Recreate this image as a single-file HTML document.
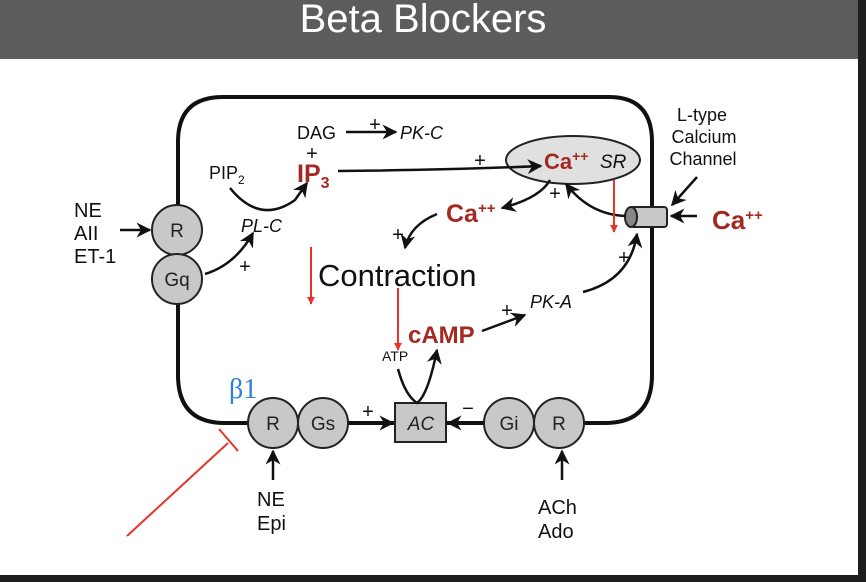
<!DOCTYPE html>
<html><head><meta charset="utf-8"><style>
html,body{margin:0;padding:0;background:#fff;}
body{width:866px;height:582px;overflow:hidden;position:relative;font-family:"Liberation Sans",sans-serif;}
</style></head><body>
<svg width="866" height="582" viewBox="0 0 866 582" xmlns="http://www.w3.org/2000/svg" style="position:absolute;left:0;top:0" font-family="Liberation Sans, sans-serif">
<defs>
<marker id="a" viewBox="0 0 10 10" refX="9" refY="5" markerWidth="6" markerHeight="6" orient="auto-start-reverse"><path d="M0,0L10,5L0,10L3,5z" fill="#111"/></marker>
<marker id="r" viewBox="0 0 10 10" refX="9" refY="5" markerWidth="4" markerHeight="4" orient="auto"><path d="M0,0L10,5L0,10z" fill="#e8332a"/></marker>
</defs>
<rect x="0" y="0" width="866" height="59" fill="#5c5c5c"/>
<text x="423" y="32" font-size="40" fill="#fff" text-anchor="middle">Beta Blockers</text>
<rect x="858" y="0" width="8" height="582" fill="#1e1e1e"/>
<rect x="0" y="575" width="866" height="7" fill="#1e1e1e"/>

<!-- membrane -->
<path d="M178,375 L178,142 Q178,97 223,97 L609,97 Q652,97 652,142 L652,375 Q652,423 605,423 L225,423 Q178,423 178,375" fill="none" stroke="#111" stroke-width="4"/>

<g stroke="#222" stroke-width="2" fill="#c8c8c8">
<circle cx="177" cy="230" r="25"/><circle cx="177" cy="279" r="25"/>
<circle cx="273" cy="423" r="25"/><circle cx="323" cy="423" r="25"/>
<rect x="395" y="403" width="51" height="39"/>
<circle cx="509" cy="423" r="25"/><circle cx="559" cy="423" r="25"/>
<ellipse cx="573" cy="160" rx="67" ry="24" fill="#e0e0e0"/>
<rect x="630" y="207" width="37" height="20" rx="3"/>
<ellipse cx="631" cy="217" rx="6" ry="10" fill="#888"/>
</g>
<g font-size="19" text-anchor="middle" fill="#222">
<text x="177" y="237">R</text><text x="177" y="286">Gq</text>
<text x="273" y="430">R</text><text x="323" y="430">Gs</text>
<text x="421" y="430" font-style="italic">AC</text>
<text x="509" y="430">Gi</text><text x="559" y="430">R</text>
</g>
<g font-size="20" fill="#111">
<text x="74" y="217">NE</text><text x="74" y="240">AII</text><text x="74" y="263">ET-1</text>
<text x="257" y="506">NE</text><text x="257" y="530">Epi</text>
<text x="538" y="514">ACh</text><text x="538" y="538">Ado</text>
</g>
<g font-size="18" fill="#111" text-anchor="middle">
<text x="702" y="121">L-type</text>
<text x="704" y="143">Calcium</text><text x="703" y="165">Channel</text>
</g>
<g font-size="18" fill="#111">
<text x="297" y="139">DAG</text>
<text x="400" y="139" font-style="italic">PK-C</text>
<text x="209" y="179">PIP<tspan font-size="12" dy="5">2</tspan></text>
<text x="241" y="232" font-style="italic">PL-C</text>
<text x="530" y="308" font-style="italic">PK-A</text>
<text x="600" y="168" font-size="19" font-style="italic">SR</text>
<text x="318" y="286" font-size="31">Contraction</text>
<text x="382" y="361" font-size="14">ATP</text>
</g>
<g fill="#a32a22" font-weight="bold">
<text x="297" y="182" font-size="25">IP<tspan font-size="16" dy="6">3</tspan></text>
<text x="544" y="169" font-size="22">Ca<tspan font-size="14" dy="-8">++</tspan></text>
<text x="446" y="222" font-size="25">Ca<tspan font-size="15" dy="-9">++</tspan></text>
<text x="712" y="229" font-size="26">Ca<tspan font-size="15" dy="-9">++</tspan></text>
<text x="408" y="343" font-size="24">cAMP</text>
</g>
<text x="229" y="398" font-size="28" fill="#2f7fd6" font-family="Liberation Serif, serif">β1</text>
<g font-size="20" fill="#111" text-anchor="middle">
<text x="375" y="131">+</text><text x="312" y="160">+</text><text x="480" y="167">+</text>
<text x="555" y="200">+</text><text x="398" y="241">+</text><text x="245" y="273">+</text>
<text x="624" y="264">+</text><text x="507" y="317">+</text><text x="368" y="418">+</text>
<text x="468" y="415">−</text>
</g>
<g fill="none" stroke="#111" stroke-width="2.5" marker-end="url(#a)">
<path d="M346,132 L396,132"/>
<path d="M230,188 Q260,225 295,200 L307,183"/>
<path d="M205,274 Q235,265 253,233"/>
<path d="M338,171 Q450,170 541,166"/>
<path d="M550,180 Q540,198 502,208"/>
<path d="M437,214 Q410,225 405,248"/>
<path d="M626,216 Q590,215 566,184"/>
<path d="M583,292 Q630,280 637,234"/>
<path d="M482,331 L525,315"/>
<path d="M120,230 L150,230"/>
<path d="M273,480 L273,451"/>
<path d="M562,480 L562,451"/>
<path d="M348,423 L393,423"/>
<path d="M484,423 L448,423"/>
<path d="M697,216 L671,216"/>
<path d="M697,177 L672,205"/>
<path d="M398,369 Q405,395 417,403 Q428,395 437,350"/>
</g>
<g stroke="#e8332a" stroke-width="2" fill="none">
<path d="M311,247 L311,304" marker-end="url(#r)"/>
<path d="M398,288 L398,350" marker-end="url(#r)"/>
<path d="M614,180 L614,232" marker-end="url(#r)"/>
<path d="M127,536 L228,443"/>
<path d="M219,429 L238,451"/>
</g>
</svg>
</body></html>
